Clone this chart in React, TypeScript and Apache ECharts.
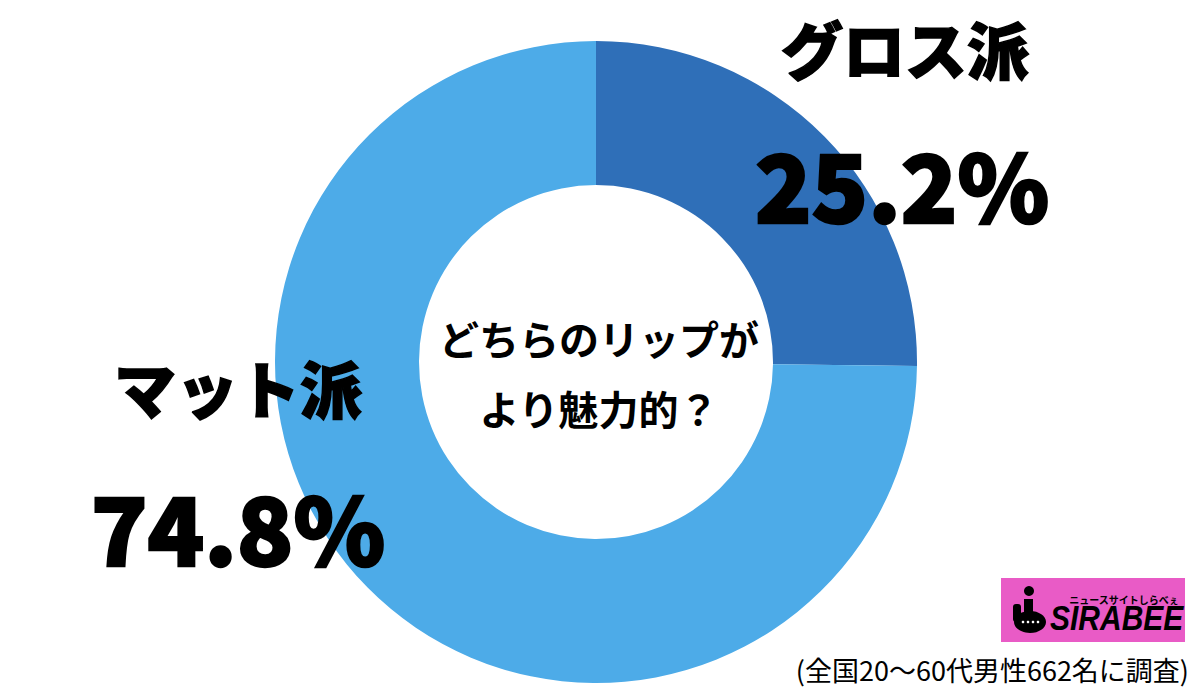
import React, { useEffect, useRef } from "react";
import * as echarts from "echarts";

const categories = ["グロス派", "マット派"];
const values = [25.2, 74.8];
const colors = ["#2f6fb8", "#4dabe8"];
const centerLines = ["どちらのリップが", "より魅力的？"];
const note = "(全国20〜60代男性662名に調査)";

const FONT = '"Noto Sans CJK JP", "Noto Sans", sans-serif';

export default function App() {
  const ref = useRef<HTMLDivElement>(null);
  useEffect(() => {
    const chart = echarts.init(ref.current!, null, { renderer: "svg" });
    const labelPos = [
      { name: [905, 48], val: [902, 182] },
      { name: [238, 387], val: [238, 525] },
    ];
    const graphics: any[] = [];
    categories.forEach((c, i) => {
      graphics.push({
        type: "text",
        x: labelPos[i].name[0],
        y: labelPos[i].name[1],
        style: {
          text: c,
          font: `900 62px ${FONT}`,
          fill: "#000",
          stroke: "#000",
          lineWidth: 1.5,
          align: "center",
          verticalAlign: "middle",
        },
        z: 10,
      });
      graphics.push({
        type: "text",
        x: labelPos[i].val[0],
        y: labelPos[i].val[1],
        style: {
          text: `${values[i]}%`,
          font: `900 93px ${FONT}`,
          fill: "#000",
          stroke: "#000",
          lineWidth: 2.5,
          align: "center",
          verticalAlign: "middle",
        },
        z: 10,
      });
    });
    centerLines.forEach((t, i) => {
      graphics.push({
        type: "text",
        x: 599,
        y: 338 + i * 70,
        style: {
          text: t,
          font: `bold 40px ${FONT}`,
          fill: "#000",
          align: "center",
          verticalAlign: "middle",
        },
        z: 10,
      });
    });
    // logo
    graphics.push({
      type: "rect",
      shape: { x: 1001, y: 578, width: 184, height: 64 },
      style: { fill: "#e95bc6" },
      z: 10,
    });
    graphics.push({
      type: "circle",
      shape: { cx: 1029, cy: 591, r: 5 },
      style: { fill: "#000" },
      z: 11,
    });
    graphics.push({
      type: "rect",
      shape: { x: 1024, y: 599, width: 9, height: 20 },
      style: { fill: "#000" },
      z: 11,
    });
    graphics.push({
      type: "rect",
      shape: { x: 1013, y: 604, width: 8, height: 18, r: 3 },
      style: { fill: "#000" },
      z: 11,
    });
    graphics.push({
      type: "ellipse",
      shape: { cx: 1030, cy: 622, rx: 16, ry: 11 },
      style: { fill: "#000" },
      z: 11,
    });
    [1023, 1028, 1033, 1038].forEach((cx) =>
      graphics.push({
        type: "circle",
        shape: { cx, cy: 622, r: 1.3 },
        style: { fill: "#fff" },
        z: 12,
      })
    );
    graphics.push({
      type: "text",
      x: 1050,
      y: 618,
      style: {
        text: "SIRABEE",
        font: `italic 900 30px "Liberation Sans", Arial, sans-serif`,
        fill: "#000",
        align: "left",
        verticalAlign: "middle",
      },
      scaleY: 1.15,
      originY: 0,
      z: 11,
    });
    graphics.push({
      type: "text",
      x: 1124,
      y: 599,
      style: {
        text: "ニュースサイトしらべぇ",
        font: `bold 10px ${FONT}`,
        fill: "#000",
        align: "center",
        verticalAlign: "middle",
      },
      z: 11,
    });
    graphics.push({
      type: "text",
      x: 1189,
      y: 669,
      style: {
        text: note,
        font: `27px ${FONT}`,
        fill: "#000",
        align: "right",
        verticalAlign: "middle",
      },
      z: 10,
    });

    chart.setOption({
      animation: false,
      backgroundColor: "#ffffff",
      series: [
        {
          type: "pie",
          center: [596, 362],
          radius: [177, 321],
          startAngle: 90,
          clockwise: true,
          label: { show: false },
          labelLine: { show: false },
          silent: true,
          data: categories.map((c, i) => ({
            name: c,
            value: values[i],
            itemStyle: { color: colors[i] },
          })),
        },
      ],
      graphic: graphics,
    });
    return () => chart.dispose();
  }, []);
  return (
    <div
      ref={ref}
      style={{ position: "absolute", left: 0, top: 0, width: 1200, height: 694 }}
    />
  );
}
